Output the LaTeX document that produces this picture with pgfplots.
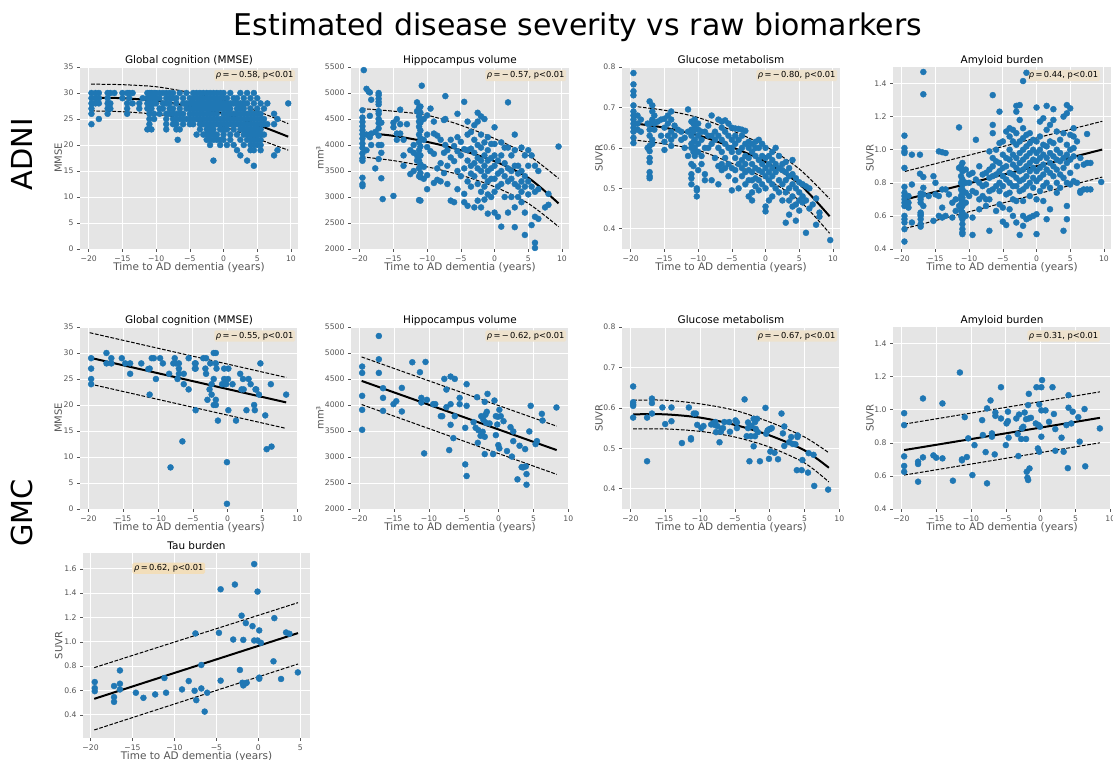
\documentclass[border=0pt]{standalone}
\usepackage{pgfplots}
\pgfplotsset{compat=1.18}
\usepackage{fontspec}
\setmainfont{DejaVu Sans}
\definecolor{bg}{RGB}{229,229,229}
\definecolor{pt}{RGB}{31,119,180}
\definecolor{lab}{RGB}{85,85,85}
\definecolor{boxc}{RGB}{238,226,205}
\definecolor{boxt}{RGB}{242,222,186}
\tikzset{note/.style={anchor=north west, fill=boxc, rounded corners=1.5bp, inner sep=1.7bp, font=\fontsize{8.3}{9}\selectfont, text=black},
  ttl/.style={anchor=base, font=\fontsize{10.5}{11}\selectfont, text=black, inner sep=0pt}}
\pgfplotsset{
  base/.style={
    scale only axis, width=218bp, height=182bp,
    axis background/.style={fill=bg},
    axis line style={draw=none},
    grid=major, major grid style={white, line width=0.9bp},
    tick pos=left, tick align=outside, major tick length=3bp,
    every tick/.style={lab, line width=0.6bp},
    tick label style={font=\fontsize{7.7}{8}\selectfont, text=lab},
    /pgf/number format/assume math mode=true,
    /pgf/number format/1000 sep={},
    scaled ticks=false,
    xlabel={Time to AD dementia (years)},
    xlabel style={font=\fontsize{10.5}{11}\selectfont, text=lab, at={(axis description cs:0.5,0)}, anchor=base, yshift=-21.4bp},
    ylabel style={font=\fontsize{10}{11}\selectfont, text=lab, anchor=center},
    xtick={-20,-15,-10,-5,0,5,10},
    xticklabels={−20,−15,−10,−5,0,5,10},
  },
  r1/.style={base, xmin=-21.3, xmax=11.05},
  r2/.style={base, xmin=-21.2, xmax=10.1},
  dec/.style={yticklabel style={/pgf/number format/.cd, fixed, fixed zerofill, precision=1}},
  mmse/.style={ymin=0, ymax=35, ytick={0,5,...,35}, ylabel={MMSE}, ylabel style={at={(axis description cs:-0.1,0.5)}}},
  hip/.style={ymin=2000, ymax=5500, ytick={2000,2500,...,5500}, ylabel={mm³}, ylabel style={at={(axis description cs:-0.142,0.5)}}},
  glu/.style={dec, ymin=0.35, ymax=0.8, ytick={0.4,0.5,0.6,0.7,0.8}, ylabel={SUVR}, ylabel style={at={(axis description cs:-0.105,0.5)}}},
  amy/.style={dec, ymin=0.4, ymax=1.5, ytick={0.4,0.6,...,1.41}, ylabel={SUVR}, ylabel style={at={(axis description cs:-0.105,0.5)}}},
  pts/.style={only marks, mark=*, mark size=3bp, color=pt},
  fit/.style={black, line width=2bp, smooth, no marks},
  band/.style={black, line width=1bp, dash pattern=on 3.7bp off 1.6bp, smooth, no marks},
}
\begin{document}
\begin{tikzpicture}
\useasboundingbox (0,0) rectangle (1113bp,760bp);
\node[anchor=base, font=\fontsize{30}{31}\selectfont] at (578bp,724bp) {Estimated disease severity vs raw biomarkers};
\node[rotate=90, font=\fontsize{29}{30}\selectfont] at (22bp,606bp) {ADNI};
\node[rotate=90, font=\fontsize{29}{30}\selectfont] at (22bp,247bp) {GMC};

% ---------- Row 1 : ADNI ----------
\begin{axis}[r1, mmse, at={(80bp,511bp)}, anchor=south west, name=a11]
\addplot[pts] coordinates {
(-19.6,30)(-19.6,29)(-19.6,28)(-19.6,27)(-19.6,26)(-19.6,24)
(-19,30)(-19,29)(-19,28)(-18.5,30)(-18.5,29)(-18.5,28)(-18.5,25)
(-17.2,30)(-17.2,29)(-17.2,28)(-17.2,27)(-17.2,26)(-16.8,30)(-16.8,28)(-16.8,27)(-16.2,30)
(-15,30)(-15,29)(-14.3,30)(-14.3,28)(-14.3,27)(-14.3,26)(-14,30)(-14,29)(-13.5,30)(-13.5,28)
(-12.5,28)(-12.5,27)(-12,29)
(-11.3,30)(-11.3,29)(-11.3,28)(-11.3,27)(-11.3,23)
(-11,30)(-11,29)(-11,28)(-11,27)(-11,26)(-11,25)(-11,24)
(-10.7,30)(-10.7,29)(-10.7,28)(-10.7,27)(-10.7,23)
(-10.3,30)(-10.3,29)(-10.3,28)(-10.3,26)(-10.3,25)
(-10,30)(-10,29)(-10,28)(-9.5,30)(-9.5,29)(-9.5,27)(-9.5,26)(-9,30)(-9,28)(-9,27)
(-8.5,30)(-8.5,29)(-8.5,28)(-8.5,26)(-8.5,25)(-8.5,24)(-8.5,23)
(-8,30)(-8,29)(-8,28)(-8,27)(-8,26)
(-7.5,30)(-7.5,29)(-7.5,27)(-7.5,26)(-7.5,25)(-7.5,24)
(-7,29)(-7,28)(-7,26)(-7,25)(-7,24)(-7,23)(-6.8,21)
(-6.5,30)(-6.5,27)(-6.5,26)(-6.5,25)(-6.5,23)
(-6,29)(-6,28)(-6,26)(-6,25)(-6,24)(-5.5,30)(-5.5,28)(-5.5,27)(-5.5,25)
(-5,29)(-5,28)(-5,27)(-5,26)(-5,25)(-5,24)
(-4.5,30)(-4.5,29)(-4.5,28)(-4.5,27)(-4.5,26)(-4.5,25)(-4.5,24)
(-4,30)(-4,29)(-4,28)(-4,27)(-4,26)(-4,25)(-4,22)
(-3.5,30)(-3.5,29)(-3.5,28)(-3.5,27)(-3.5,26)(-3.5,25)(-3.5,24)(-3.5,23)
(-3,30)(-3,29)(-3,28)(-3,27)(-3,26)(-3,25)(-3,24)(-3,22)
(-2.5,30)(-2.5,29)(-2.5,28)(-2.5,27)(-2.5,26)(-2.5,25)(-2.5,24)(-2.5,23)(-2.5,22)(-2.5,21)
(-2,30)(-2,29)(-2,28)(-2,27)(-2,26)(-2,25)(-2,24)(-2,23)(-2,22)(-2,21)(-2,20)
(-1.5,30)(-1.5,29)(-1.5,28)(-1.5,27)(-1.5,26)(-1.5,25)(-1.5,24)(-1.5,23)(-1.5,22)(-1.5,21)(-1.5,17)
(-1,30)(-1,29)(-1,28)(-1,27)(-1,26)(-1,25)(-1,24)(-1,22)(-1,21)
(-0.5,30)(-0.5,29)(-0.5,28)(-0.5,27)(-0.5,25)(-0.5,24)(-0.5,23)(-0.5,21)(-0.5,20)
(0,30)(0,29)(0,28)(0,27)(0,26)(0,25)(0,24)(0,23)(0,22)(0,21)
(0.5,29)(0.5,28)(0.5,27)(0.5,26)(0.5,25)(0.5,24)(0.5,23)(0.5,20)
(1,30)(1,28)(1,27)(1,26)(1,25)(1,24)(1,22)(1,21)
(1.5,29)(1.5,28)(1.5,26)(1.5,25)(1.5,24)(1.5,23)(1.5,20)
(2,29)(2,28)(2,27)(2,26)(2,25)(2,24)(2,22)(2,19)
(2.5,30)(2.5,28)(2.5,27)(2.5,26)(2.5,25)(2.5,24)(2.5,23)(2.5,21)(2.5,18)
(3,29)(3,28)(3,27)(3,26)(3,25)(3,24)(3,23)(3,22)(3,20)
(3.5,30)(3.5,28)(3.5,26)(3.5,25)(3.5,24)(3.5,23)(3.5,22)(3.5,21)(3.5,17)
(4,29)(4,27)(4,26)(4,25)(4,24)(4,23)(4,22)(4,21)(4,20)(4,19)
(4.5,30)(4.5,28)(4.5,26)(4.5,25)(4.5,24)(4.5,23)(4.5,22)(4.5,21)(4.5,20)(4.5,19)(4.5,16)
(5,29)(5,27)(5,26)(5,25)(5,24)(5,23)(5,22)(5,21)(5,20)
(5.5,28)(5.5,26)(5.5,25)(5.5,24)(5.5,23)(5.5,22)(5.5,21)(5.5,20)(5.5,19)
(6,27)(6,25)(6,24)(6,22)(6.5,28)(6.5,24)(7.5,26)(7.5,24)(7.5,18)(8,25)(8,19)(9.6,28)
};
\addplot[fit] coordinates {(-19.65,29.1)(-15,29.0)(-10,28.5)(-5,27.45)(0,26.0)(5,23.9)(9.6,21.6)};
\addplot[band] coordinates {(-19.65,31.7)(-15,31.6)(-10,31.2)(-5,30.1)(0,28.6)(5,26.5)(9.6,24.1)};
\addplot[band] coordinates {(-19.65,26.55)(-15,26.4)(-10,25.9)(-5,24.9)(0,23.5)(5,21.2)(9.6,19.0)};
\node[note] at (rel axis cs:0.615,0.985) {{\itshape ρ}\,=\,−\,0.58, p<0.01};
\end{axis}
\node[ttl] at ([yshift=3.6bp]a11.north) {Global cognition (MMSE)};

\begin{axis}[r1, hip, at={(351bp,511bp)}, anchor=south west, name=a12]
\addplot[pts] coordinates {
(-19.6,4668)(-19.6,4527)(-19.6,4444)(-19.6,4361)(-19.6,4284)(-19.6,4208)(-19.6,4124)(-19.6,4028)(-19.6,3945)(-19.6,3836)(-19.6,3741)(-19.6,3696)(-19.6,3370)(-19.6,3248)(-19.6,3209)
(-19.4,5440)(-19,5080)(-19,4200)(-19,3900)(-18.7,5030)(-18.5,5010)(-18.5,4560)(-18.5,4150)
(-18.3,4870)(-18.3,4220)(-18.3,4000)(-17.7,3550)(-17.7,4250)
(-17.2,5000)(-17.2,4960)(-17.2,4890)(-17.2,4830)(-17.2,4780)(-17.2,4650)(-17.2,4600)(-17.2,4500)(-17.2,4420)(-17.2,4320)(-17.2,4180)(-17.2,4000)(-17.2,3730)
(-16.8,4430)(-16.8,4000)(-16.8,3850)(-16.8,3360)(-16.6,2960)
(-15,3020)(-15,4340)(-15,4430)(-14.5,4220)(-14.5,4100)(-14.5,4500)(-14,4680)(-14,4400)(-14,4220)
(-13.5,3600)(-13.5,4100)(-13.5,3800)(-13,4400)(-12.5,3440)(-12.5,3900)(-12,4000)(-12,3850)(-12,3500)
(-11.5,4820)(-11.5,4650)(-11.5,3800)(-11.5,3700)
(-11.2,4720)(-11.2,4680)(-11.2,4550)(-11.2,4450)(-11.2,4350)(-11.2,4200)(-11.2,4050)(-11.2,3900)(-11.2,3700)(-11.2,3550)(-11.2,3400)(-11.2,2940)
(-11,4740)(-11,4620)(-11,4430)(-11,4280)(-11,4130)(-11,3970)(-11,3800)(-11,3630)(-11,3460)(-11,3380)(-11,2930)
(-10.8,5140)(-10.5,4500)(-10.5,4100)(-10.5,3580)(-10.5,3350)
(-10,4570)(-10,4200)(-10,3960)(-10,3420)(-10,3150)(-9.5,4700)(-9.5,3880)
(-9,4450)(-9,4220)(-9,3830)(-9,3270)(-8.5,4180)(-8.5,3550)(-8.5,3330)(-8,4100)(-8,3650)(-8,3300)
(-7.5,4480)(-7.5,3850)(-7.5,3460)(-7.3,4940)(-7.3,4500)(-7.3,4000)(-7,3900)(-7,3250)(-7,3600)
(-6.5,4100)(-6.5,3760)(-6.5,2930)(-6,3980)(-6,3690)(-6,2900)
(-5.5,4600)(-5.5,4150)(-5.5,3880)(-5.5,3500)(-5.5,3150)(-5,4060)(-5,3800)(-5,3400)
(-4.5,4830)(-4.5,3920)(-4.5,3550)(-4.5,3060)(-4.5,2900)
(-4,4450)(-4,4200)(-4,3900)(-4,3700)(-4,3300)(-4,2830)
(-3.5,4250)(-3.5,3930)(-3.5,3600)(-3.5,3450)(-3.5,3200)
(-3,4380)(-3,4100)(-3,3850)(-3,3650)(-3,3400)(-3,2800)
(-2.5,4620)(-2.5,4450)(-2.5,4000)(-2.5,3750)(-2.5,3550)(-2.5,3250)(-2.5,2930)
(-2,4550)(-2,4200)(-2,3950)(-2,3700)(-2,3500)(-2,3100)(-2,2800)
(-1.5,4500)(-1.5,4050)(-1.5,3800)(-1.5,3600)(-1.5,3400)(-1.5,3200)(-1.5,2950)
(-1,4150)(-1,3900)(-1,3700)(-1,3500)(-1,3300)(-1,3050)(-1,2680)
(-0.5,4020)(-0.5,3750)(-0.5,3550)(-0.5,3350)(-0.5,3000)
(0,4340)(0,4020)(0,3800)(0,3600)(0,3350)(0,3100)(0,2700)
(0.5,3700)(0.5,3450)(0.5,3200)(0.5,2620)(1,4050)(1,3800)(1,3500)(1,3250)(1,2430)
(1.5,3950)(1.5,3650)(1.5,3400)(1.5,3000)(2,4820)(2,3950)(2,3550)(2,3300)(2,2700)
(2.5,3800)(2.5,3500)(2.5,3350)(2.5,3000)(3,4200)(3,3900)(3,3600)(3,3250)(3,2800)(3,2420)
(3.5,3600)(3.5,3450)(3.5,3200)(3.5,3000)(4,3950)(4,3500)(4,3300)(4,3100)(4,2900)
(4.5,3800)(4.5,3400)(4.5,3200)(4.5,2700)(4.5,2270)(5,3900)(5,3600)(5,3300)(5,3050)
(5.5,3800)(5.5,3200)(5.5,2460)(6,3600)(6,3100)(6,2620)(6,2120)(6,2020)
(6.5,3500)(6.5,3150)(6.5,2580)(7.5,2800)(8,3060)(8,2850)(9.5,3970)
};
\addplot[fit] coordinates {(-19.7,4240)(-15,4176)(-10,4060)(-5,3900)(0,3689)(5,3370)(9.5,2877)};
\addplot[band] coordinates {(-19.7,4700)(-15,4650)(-10,4572)(-5,4380)(0,4124)(5,3804)(9.5,3357)};
\addplot[band] coordinates {(-19.7,3772)(-15,3700)(-10,3580)(-5,3420)(0,3197)(5,2877)(9.5,2429)};
\node[note] at (rel axis cs:0.615,0.985) {{\itshape ρ}\,=\,−\,0.57, p<0.01};
\end{axis}
\node[ttl] at ([yshift=3.6bp]a12.north) {Hippocampus volume};

\begin{axis}[r1, glu, at={(622bp,511bp)}, anchor=south west, name=a13]
\addplot[pts] coordinates {
(-19.6,0.785)(-19.6,0.757)(-19.6,0.74)(-19.6,0.73)(-19.6,0.705)(-19.6,0.69)(-19.6,0.68)(-19.6,0.67)(-19.6,0.66)(-19.6,0.65)(-19.6,0.64)(-19.6,0.625)(-19.6,0.612)
(-19,0.68)(-19,0.66)(-19,0.645)(-18.5,0.67)(-18.5,0.64)(-17.5,0.66)(-17.5,0.6)
(-17.2,0.715)(-17.2,0.66)(-17.2,0.645)(-17.2,0.63)(-17.2,0.605)(-17.2,0.592)(-17.2,0.575)(-17.2,0.565)(-17.2,0.54)(-17.2,0.53)(-17.2,0.525)
(-16.8,0.705)(-16.8,0.69)(-16.8,0.67)(-16.8,0.62)(-16.8,0.61)(-16.5,0.68)(-16.5,0.66)(-16.5,0.645)(-16,0.665)
(-15.5,0.67)(-15.5,0.63)(-15,0.672)(-15,0.65)(-15,0.615)(-15,0.595)(-14.5,0.68)(-14.5,0.66)(-14.5,0.63)
(-14,0.69)(-14,0.67)(-14,0.64)(-14,0.62)(-14,0.605)(-13.5,0.655)(-13.5,0.63)(-13,0.645)(-12.5,0.64)(-12.5,0.62)
(-12,0.625)(-12,0.6)(-11.5,0.695)(-11.5,0.64)(-11.5,0.58)
(-11,0.665)(-11,0.645)(-11,0.63)(-11,0.61)(-11,0.6)(-11,0.56)(-11,0.535)(-11,0.525)(-11,0.51)
(-10.7,0.66)(-10.7,0.64)(-10.7,0.615)(-10.7,0.59)(-10.7,0.555)(-10.5,0.67)(-10.5,0.65)(-10.5,0.62)(-10.5,0.6)(-10.5,0.58)
(-10.2,0.5)(-10.2,0.48)(-10.2,0.495)(-10,0.66)(-10,0.645)(-10,0.63)(-10,0.61)(-10,0.59)(-10,0.545)
(-9.5,0.64)(-9.5,0.62)(-9.5,0.58)(-9.5,0.56)(-9,0.64)(-9,0.6)(-9,0.535)(-9,0.52)
(-8.5,0.655)(-8.5,0.63)(-8.5,0.6)(-8,0.68)(-8,0.63)(-8,0.61)(-8,0.52)(-7.5,0.64)(-7.5,0.62)(-7.5,0.575)
(-7,0.67)(-7,0.63)(-7,0.6)(-7,0.555)(-7,0.51)(-6.5,0.665)(-6.5,0.65)(-6.5,0.62)(-6.5,0.59)(-6.5,0.56)(-6.5,0.545)
(-6,0.668)(-6,0.64)(-6,0.61)(-6,0.575)(-6,0.55)(-5.5,0.66)(-5.5,0.63)(-5.5,0.6)(-5.5,0.56)(-5.5,0.53)
(-5,0.65)(-5,0.62)(-5,0.6)(-5,0.59)(-5,0.55)(-5,0.495)(-4.5,0.648)(-4.5,0.63)(-4.5,0.61)(-4.5,0.575)(-4.5,0.545)(-4.5,0.52)
(-4,0.647)(-4,0.62)(-4,0.59)(-4,0.56)(-4,0.5)(-3.5,0.645)(-3.5,0.63)(-3.5,0.6)(-3.5,0.57)(-3.5,0.55)(-3.5,0.53)
(-3,0.642)(-3,0.61)(-3,0.58)(-3,0.56)(-3,0.54)(-3,0.51)(-2.5,0.615)(-2.5,0.6)(-2.5,0.575)(-2.5,0.545)(-2.5,0.52)(-2.5,0.48)
(-2,0.61)(-2,0.59)(-2,0.56)(-2,0.54)(-2,0.52)(-2,0.49)(-2,0.47)(-1.5,0.615)(-1.5,0.6)(-1.5,0.58)(-1.5,0.55)(-1.5,0.525)(-1.5,0.505)
(-1,0.62)(-1,0.6)(-1,0.57)(-1,0.545)(-1,0.52)(-1,0.495)(-0.5,0.61)(-0.5,0.58)(-0.5,0.56)(-0.5,0.54)(-0.5,0.51)
(0,0.6)(0,0.575)(0,0.55)(0,0.53)(0,0.5)(0,0.455)(0,0.443)(0.5,0.58)(0.5,0.56)(0.5,0.54)(0.5,0.52)(0.5,0.47)
(1,0.59)(1,0.57)(1,0.55)(1,0.53)(1,0.51)(1,0.48)(1.5,0.6)(1.5,0.56)(1.5,0.54)(1.5,0.5)
(2,0.58)(2,0.55)(2,0.52)(2,0.49)(2.5,0.56)(2.5,0.545)(2.5,0.51)(2.5,0.47)
(3,0.565)(3,0.54)(3,0.52)(3,0.49)(3,0.415)(3.5,0.55)(3.5,0.53)(3.5,0.5)(3.5,0.47)(3.5,0.435)
(4,0.57)(4,0.535)(4,0.51)(4,0.48)(4,0.455)(4.5,0.525)(4.5,0.5)(4.5,0.46)(4.5,0.42)
(5,0.515)(5,0.49)(5,0.47)(5,0.445)(5.5,0.51)(5.5,0.48)(5.5,0.465)(6,0.505)(6,0.47)(6,0.39)
(6.5,0.5)(6.5,0.45)(7,0.46)(7.5,0.475)(7.5,0.41)(8,0.44)(8,0.43)(9.6,0.372)
};
\addplot[fit] coordinates {(-19.75,0.661)(-15,0.650)(-10,0.631)(-5,0.602)(0,0.565)(5,0.511)(9.5,0.431)};
\addplot[band] coordinates {(-19.75,0.703)(-15,0.693)(-10,0.675)(-5,0.643)(0,0.604)(5,0.548)(9.5,0.474)};
\addplot[band] coordinates {(-19.75,0.620)(-15,0.610)(-10,0.594)(-5,0.562)(0,0.524)(5,0.470)(9.5,0.389)};
\node[note] at (rel axis cs:0.615,0.985) {{\itshape ρ}\,=\,−\,0.80, p<0.01};
\end{axis}
\node[ttl] at ([yshift=3.6bp]a13.north) {Glucose metabolism};

\begin{axis}[r1, amy, at={(893bp,511bp)}, anchor=south west, name=a14]
\addplot[pts] coordinates {
(-19.6,1.085)(-19.6,1.01)(-19.6,0.99)(-19.6,0.98)(-19.6,0.89)(-19.6,0.775)(-19.6,0.74)(-19.6,0.72)(-19.6,0.7)(-19.6,0.68)(-19.6,0.66)(-19.6,0.6)(-19.6,0.58)(-19.6,0.56)(-19.6,0.52)(-19.6,0.445)
(-19,0.72)(-19,0.68)(-19,0.65)(-18.5,0.97)(-18.5,0.79)(-18.5,0.56)(-17.3,0.97)(-17.3,0.855)
(-17.2,0.735)(-17.2,0.72)(-17.2,0.7)(-17.2,0.68)(-17.2,0.62)(-17.2,0.61)(-17.2,0.6)(-17.2,0.58)(-17.2,0.55)(-17.2,0.535)
(-16.8,1.47)(-16.8,1.335)(-16.8,0.835)(-16.8,0.77)(-16.8,0.73)(-16.8,0.66)(-16,0.72)
(-15.3,0.84)(-15.3,0.57)(-15,0.8)(-15,0.73)(-14.5,0.99)(-14.5,0.72)(-14.5,0.6)(-14,0.985)(-14,0.76)(-14,0.65)(-14,0.59)
(-13.5,0.98)(-13.5,0.76)(-13.5,0.6)(-13,0.73)(-12.5,0.68)(-12.5,0.59)(-12,0.7)(-12,0.63)(-11.5,1.135)(-11.5,0.89)(-11.5,0.66)
(-11.2,0.9)(-11.2,0.84)(-11.2,0.8)(-11.2,0.76)(-11.2,0.72)(-11.2,0.7)(-11.2,0.67)(-11.2,0.65)(-11.2,0.63)(-11.2,0.6)
(-11,0.92)(-11,0.87)(-11,0.82)(-11,0.79)(-11,0.76)(-11,0.74)(-11,0.71)(-11,0.68)(-11,0.66)(-11,0.62)(-11,0.58)(-11,0.55)(-11,0.52)(-11,0.5)(-11,0.49)
(-10.5,0.88)(-10.5,0.8)(-10.5,0.74)(-10.5,0.68)(-10.5,0.6)(-10,0.85)(-10,0.8)(-10,0.72)
(-9.5,0.86)(-9.5,0.75)(-9.5,0.59)(-9.5,0.485)(-9,1.06)(-9,0.82)(-9,0.74)(-8.5,0.9)(-8.5,0.8)(-8.5,0.7)(-8.5,0.64)
(-8,0.85)(-8,0.78)(-8,0.72)(-7.5,0.86)(-7.5,0.79)(-7.5,0.7)(-7.5,0.66)(-7,0.99)(-7,0.88)(-7,0.83)(-7,0.75)(-7,0.7)(-7,0.51)
(-6.5,1.33)(-6.5,1.15)(-6.5,1.1)(-6.5,0.95)(-6.5,0.9)(-6.5,0.84)(-6.5,0.76)(-6,1.0)(-6,0.93)(-6,0.85)(-6,0.78)(-6,0.63)
(-5.5,1.23)(-5.5,1.04)(-5.5,0.92)(-5.5,0.87)(-5.5,0.8)(-5.5,0.75)(-5.5,0.67)(-5,1.05)(-5,0.97)(-5,0.89)(-5,0.84)(-5,0.78)(-5,0.65)(-5,0.565)
(-4.5,1.11)(-4.5,0.95)(-4.5,0.9)(-4.5,0.82)(-4.5,0.73)(-4.5,0.545)(-4,1.13)(-4,1.08)(-4,1.0)(-4,0.94)(-4,0.86)(-4,0.8)(-4,0.74)(-4,0.64)
(-3.5,1.12)(-3.5,1.05)(-3.5,0.97)(-3.5,0.91)(-3.5,0.85)(-3.5,0.78)(-3.5,0.7)(-3.5,0.6)
(-3,1.265)(-3,1.23)(-3,1.1)(-3,1.03)(-3,0.95)(-3,0.89)(-3,0.83)(-3,0.78)(-3,0.69)(-3,0.56)
(-2.5,1.27)(-2.5,1.18)(-2.5,1.05)(-2.5,0.98)(-2.5,0.92)(-2.5,0.87)(-2.5,0.81)(-2.5,0.75)(-2.5,0.485)
(-2,1.415)(-2,1.13)(-2,1.07)(-2,1.0)(-2,0.94)(-2,0.88)(-2,0.82)(-2,0.76)(-2,0.69)(-2,0.6)(-2,0.54)
(-1.5,1.465)(-1.5,1.09)(-1.5,1.02)(-1.5,0.96)(-1.5,0.9)(-1.5,0.84)(-1.5,0.78)(-1.5,0.58)
(-1,1.1)(-1,1.04)(-1,0.98)(-1,0.92)(-1,0.87)(-1,0.8)(-1,0.72)(-1,0.59)(-0.5,1.06)(-0.5,1.0)(-0.5,0.94)(-0.5,0.89)(-0.5,0.83)(-0.5,0.77)(-0.5,0.6)
(0,1.255)(0,1.05)(0,0.98)(0,0.93)(0,0.87)(0,0.81)(0,0.7)(0,0.61)(0,0.49)
(0.5,1.17)(0.5,1.08)(0.5,1.0)(0.5,0.95)(0.5,0.89)(0.5,0.83)(0.5,0.75)(1,1.19)(1,1.03)(1,0.97)(1,0.91)(1,0.85)(1,0.78)(1,0.69)
(1.5,1.265)(1.5,1.12)(1.5,1.02)(1.5,0.95)(1.5,0.88)(1.5,0.8)(1.5,0.58)(2,1.15)(2,1.05)(2,0.98)(2,0.92)(2,0.86)(2,0.77)(2,0.64)
(2.5,1.245)(2.5,1.18)(2.5,1.04)(2.5,0.96)(2.5,0.9)(2.5,0.84)(3,1.11)(3,1.0)(3,0.94)(3,0.88)(3,0.8)(3,0.74)
(3.5,1.06)(3.5,0.98)(3.5,0.93)(3.5,0.85)(3.5,0.77)(4,1.2)(4,1.1)(4,0.95)(4,0.89)(4,0.83)(4,0.51)
(4.5,1.27)(4.5,1.22)(4.5,1.03)(4.5,0.97)(4.5,0.92)(4.5,0.8)(4.5,0.66)(4.5,0.58)(5,1.25)(5,1.09)(5,1.0)(5,0.94)(5,0.86)(5,0.79)
(5.5,1.13)(5.5,1.08)(5.5,1.01)(5.5,0.96)(5.5,0.81)(6,1.05)(6,0.9)(6,0.8)(6.5,0.95)(6.5,0.75)(6.5,0.74)(7,0.91)(7,0.76)
(7.5,1.095)(7.5,0.92)(7.5,0.76)(8,0.92)(8,0.76)(9.6,0.805)
};
\addplot[fit] coordinates {(-19.5,0.699)(9.75,1.001)};
\addplot[band] coordinates {(-19.5,0.869)(9.75,1.172)};
\addplot[band] coordinates {(-19.5,0.524)(9.75,0.835)};
\node[note] at (rel axis cs:0.615,0.985) {{\itshape ρ}\,=\,0.44, p<0.01};
\end{axis}
\node[ttl] at ([yshift=3.6bp]a14.north) {Amyloid burden};

% ---------- Row 2 : GMC ----------
\begin{axis}[r2, mmse, at={(80bp,251bp)}, anchor=south west, name=a21]
\addplot[pts] coordinates {
(-19.6,29)(-19.6,27)(-19.6,25)(-19.6,24)(-17.4,30)(-17.4,28)(-16.7,29)(-16.7,28)(-15.2,29)(-14.7,28)(-14.0,28)(-14.0,26)
(-12.4,28)(-11.4,26.9)(-11.2,27)(-11.2,22)(-10.9,29)(-10.6,29)(-10.3,25)(-9.7,29)(-9.3,28)(-8.4,26)(-8.2,8)
(-7.8,28)(-7.6,29)(-7.4,28)(-7.2,25)(-7.0,28)(-7.0,27)(-7.0,26)(-6.5,13)(-6.3,26)(-6.3,24)(-5.6,23)(-5.6,29)
(-4.7,28)(-4.7,27)(-4.6,27)(-4.6,28)(-4.6,19)(-3.5,29)(-3.2,27)(-3.1,29)(-3.1,26)(-2.9,21)(-2.6,23)(-2.5,28)
(-2.3,24)(-2.3,22)(-2.0,30)(-2.0,25)(-2.0,20)(-1.7,30)(-1.7,21)(-1.7,20)(-1.7,28)(-1.6,27)(-1.4,17)
(-0.8,24)(-0.5,27)(-0.5,25)(-0.5,24)(-0.2,24)(-0.1,9)(-0.1,1)(0.05,25)(0.1,27)(0.1,19)(0.7,24)(1.2,17)
(1.8,26)(2.0,23)(2.2,25)(2.3,23)(2.7,19)(3.0,25)(3.3,24)(3.8,20)(3.9,19)(4.0,23)(4.1,23)(4.5,22)(4.7,28)
(5.4,18)(5.6,11.5)(6.2,24)(6.3,12)(8.4,22)
};
\addplot[fit] coordinates {(-19.8,29.1)(8.4,20.5)};
\addplot[band] coordinates {(-19.8,33.9)(8.4,25.3)};
\addplot[band] coordinates {(-19.8,24.05)(8.4,15.5)};
\node[note] at (rel axis cs:0.615,0.982) {{\itshape ρ}\,=\,−\,0.55, p<0.01};
\end{axis}
\node[ttl] at ([yshift=3.4bp]a21.north) {Global cognition (MMSE)};

\begin{axis}[r2, hip, at={(351bp,251bp)}, anchor=south west, name=a22]
\addplot[pts] coordinates {
(-19.6,4739)(-19.6,4617)(-19.6,4176)(-19.6,3907)(-19.6,3523)(-17.2,5327)(-17.2,4879)(-17.2,4617)
(-16.6,4323)(-16.6,4137)(-16.6,3888)(-15.1,4016)(-14.7,4073)(-13.9,4329)(-13.9,3875)(-12.4,4822)
(-11.3,4630)(-11.1,4137)(-11.1,4048)(-10.7,3069)(-10.5,4828)(-10.3,4099)(-9.4,4016)(-9.1,4016)
(-8.3,3785)(-8.1,3785)(-7.8,4502)(-7.5,4297)(-7.5,3958)(-7.1,3133)(-6.9,4547)(-6.9,4016)(-6.9,3619)
(-6.5,3363)(-6.3,4502)(-6.3,3785)(-5.6,4137)(-5.6,4016)(-4.8,3561)(-4.8,2858)(-4.6,4400)(-4.6,3984)(-4.6,2634)
(-3.6,3670)(-3.3,3561)(-3.1,4150)(-3.0,3273)(-2.9,3516)(-2.6,3408)(-2.5,3785)(-2.3,3485)(-2.2,3715)
(-2.0,4060)(-2.0,3056)(-2.0,3389)(-1.9,3811)(-1.8,3657)(-1.7,3869)(-1.6,4214)(-1.3,3645)(-0.8,3056)
(-0.6,4086)(-0.4,3785)(-0.4,3421)(-0.2,3625)(-0.1,3773)(-0.05,3229)(0.1,3907)(0.1,3165)(0.3,3785)(0.7,3689)
(1.2,3114)(1.7,3574)(1.9,3008)(2.1,3491)(2.1,3305)(2.7,2570)(3.0,3216)(3.3,2806)(3.5,2800)(3.8,3152)
(3.9,2819)(4.0,2467)(4.0,2672)(4.4,3491)(4.6,3984)(5.3,3248)(5.5,3305)(6.2,3830)(6.3,3702)(8.3,3952)
};
\addplot[fit] coordinates {(-19.67,4463)(8.33,3133)};
\addplot[band] coordinates {(-19.67,4924)(8.33,3593)};
\addplot[band] coordinates {(-19.67,4009)(8.33,2666)};
\node[note] at (rel axis cs:0.615,0.982) {{\itshape ρ}\,=\,−\,0.62, p<0.01};
\end{axis}
\node[ttl] at ([yshift=3.4bp]a22.north) {Hippocampus volume};

\begin{axis}[r2, glu, at={(622bp,251bp)}, anchor=south west, name=a23]
\addplot[pts] coordinates {
(-19.6,0.653)(-19.6,0.614)(-19.6,0.609)(-19.6,0.605)(-19.6,0.576)(-17.6,0.576)(-17.6,0.468)
(-16.9,0.623)(-16.9,0.612)(-16.9,0.586)(-15.4,0.601)(-15.0,0.560)(-14.1,0.601)(-14.1,0.567)(-12.6,0.513)
(-11.6,0.601)(-11.3,0.525)(-11.3,0.522)(-10.9,0.586)(-10.6,0.586)(-10.4,0.558)(-9.8,0.550)(-9.5,0.555)
(-8.4,0.559)(-8.1,0.562)(-7.9,0.558)(-7.8,0.565)(-7.7,0.540)(-7.5,0.555)(-7.2,0.515)(-7.0,0.541)(-6.9,0.548)
(-6.7,0.550)(-6.5,0.565)(-5.8,0.565)(-5.7,0.541)(-4.9,0.569)(-4.7,0.564)(-4.7,0.550)(-3.6,0.621)(-3.3,0.530)
(-3.1,0.564)(-3.1,0.550)(-2.9,0.468)(-2.7,0.530)(-2.6,0.555)(-2.3,0.573)(-2.3,0.505)(-2.1,0.565)(-2.1,0.530)
(-2.0,0.548)(-1.8,0.573)(-1.7,0.540)(-1.4,0.468)(-0.6,0.600)(-0.5,0.536)(-0.3,0.544)(-0.1,0.474)(-0.1,0.547)
(0.1,0.548)(0.1,0.492)(0.3,0.550)(0.7,0.489)(1.2,0.473)(1.7,0.586)(1.9,0.537)(2.1,0.554)(2.1,0.506)
(2.8,0.515)(3.1,0.528)(3.3,0.511)(3.7,0.510)(3.9,0.446)(4.0,0.532)(4.0,0.528)(4.6,0.446)(4.7,0.471)
(5.5,0.440)(5.6,0.488)(6.3,0.484)(6.4,0.407)(8.4,0.398)
};
\addplot[fit] coordinates {(-19.6,0.584)(-15,0.584)(-10,0.576)(-5,0.558)(0,0.532)(5,0.495)(8.5,0.452)};
\addplot[band] coordinates {(-19.6,0.619)(-15,0.619)(-10,0.610)(-5,0.594)(0,0.565)(5,0.528)(8.5,0.489)};
\addplot[band] coordinates {(-19.6,0.548)(-15,0.548)(-10,0.542)(-5,0.528)(0,0.503)(5,0.464)(8.5,0.417)};
\node[note] at (rel axis cs:0.615,0.982) {{\itshape ρ}\,=\,−\,0.67, p<0.01};
\end{axis}
\node[ttl] at ([yshift=3.4bp]a23.north) {Glucose metabolism};

\begin{axis}[r2, amy, at={(893bp,251bp)}, anchor=south west, name=a24]
\addplot[pts] coordinates {
(-19.6,0.979)(-19.6,0.907)(-19.6,0.718)(-19.6,0.660)(-19.6,0.625)(-17.6,0.686)(-17.6,0.672)(-17.6,0.565)
(-16.9,0.712)(-16.9,1.068)(-15.4,0.724)(-15.0,0.710)(-14.1,0.706)(-14.1,1.038)(-12.6,0.571)(-11.6,1.225)
(-11.3,0.700)(-11.3,0.694)(-10.9,0.955)(-10.6,0.714)(-10.4,0.827)(-9.8,0.605)(-9.5,0.786)(-8.4,0.937)
(-8.3,0.847)(-7.9,0.744)(-7.7,1.008)(-7.7,0.555)(-7.2,1.056)(-7.0,0.857)(-7.0,0.837)(-6.6,0.730)(-6.5,0.983)
(-6.5,0.963)(-5.7,1.136)(-5.7,0.947)(-5.0,0.786)(-4.9,0.917)(-4.7,0.988)(-4.7,0.931)(-4.6,0.831)(-3.5,0.947)
(-3.3,0.853)(-3.2,0.720)(-3.1,0.971)(-2.8,0.823)(-2.7,0.887)(-2.5,0.897)(-2.3,0.983)(-2.1,0.943)(-2.1,0.823)
(-2.0,0.625)(-1.9,0.589)(-1.8,0.575)(-1.8,1.028)(-1.7,1.096)(-1.7,0.947)(-1.6,0.645)(-1.4,0.951)(-0.7,0.917)
(-0.6,1.136)(-0.4,0.766)(-0.3,0.907)(-0.2,1.032)(-0.2,0.746)(-0.1,0.897)(0.1,1.136)(0.1,0.996)(0.1,0.837)
(0.2,1.179)(0.7,0.996)(1.2,0.927)(1.7,1.136)(1.9,0.974)(2.1,0.883)(2.1,0.752)(3.0,0.831)(3.3,0.746)
(3.7,0.907)(3.9,0.647)(4.0,1.012)(4.0,1.088)(4.4,0.917)(4.6,0.988)(5.4,0.955)(5.6,0.807)(6.3,1.004)
(6.4,0.658)(8.5,0.887)
};
\addplot[fit] coordinates {(-19.6,0.756)(8.5,0.951)};
\addplot[band] coordinates {(-19.6,0.913)(8.5,1.108)};
\addplot[band] coordinates {(-19.6,0.605)(8.5,0.800)};
\node[note] at (rel axis cs:0.615,0.982) {{\itshape ρ}\,=\,0.31, p<0.01};
\end{axis}
\node[ttl] at ([yshift=3.4bp]a24.north) {Amyloid burden};

% ---------- Row 3 : Tau ----------
\begin{axis}[base, dec, at={(83bp,22bp)}, anchor=south west, width=227bp, height=185bp, name=a31,
  xmin=-20.9, xmax=6.15, ymin=0.21, ymax=1.73,
  xtick={-20,-15,-10,-5,0,5}, xticklabels={−20,−15,−10,−5,0,5},
  ytick={0.4,0.6,...,1.61}, ylabel={SUVR}, ylabel style={at={(axis description cs:-0.107,0.5)}}]
\addplot[pts] coordinates {
(-19.5,0.670)(-19.5,0.620)(-19.5,0.595)(-17.2,0.637)(-17.2,0.546)(-17.2,0.507)(-16.5,0.765)(-16.5,0.656)
(-16.5,0.609)(-14.6,0.582)(-13.7,0.540)(-12.3,0.568)(-11.2,0.703)(-11.0,0.582)(-9.1,0.609)(-8.3,0.678)
(-7.6,0.598)(-7.5,1.069)(-7.4,0.521)(-6.8,0.617)(-6.8,0.810)(-6.4,0.427)(-6.1,0.582)(-4.7,1.074)
(-4.5,1.432)(-4.5,0.681)(-3.0,1.019)(-2.8,1.471)(-2.2,0.769)(-2.0,1.215)(-1.9,0.664)(-1.8,1.016)
(-1.8,0.642)(-1.6,0.656)(-1.5,1.154)(-1.4,0.664)(-0.7,1.129)(-0.5,1.639)(-0.5,1.011)(-0.1,1.413)
(-0.1,1.011)(0.1,1.094)(0.1,0.697)(0.1,0.706)(0.3,0.992)(1.8,0.840)(1.9,1.195)(2.7,0.695)(3.3,1.077)
(3.7,1.066)(4.7,0.749)
};
\addplot[fit] coordinates {(-19.56,0.532)(4.72,1.072)};
\addplot[band] coordinates {(-19.56,0.788)(4.72,1.322)};
\addplot[band] coordinates {(-19.56,0.276)(4.72,0.818)};
\node[note, fill=boxt] at (rel axis cs:0.217,0.949) {{\itshape ρ}\,=\,0.62, p<0.01};
\end{axis}
\node[ttl] at ([yshift=3.6bp]a31.north) {Tau burden};
\end{tikzpicture}
\end{document}
